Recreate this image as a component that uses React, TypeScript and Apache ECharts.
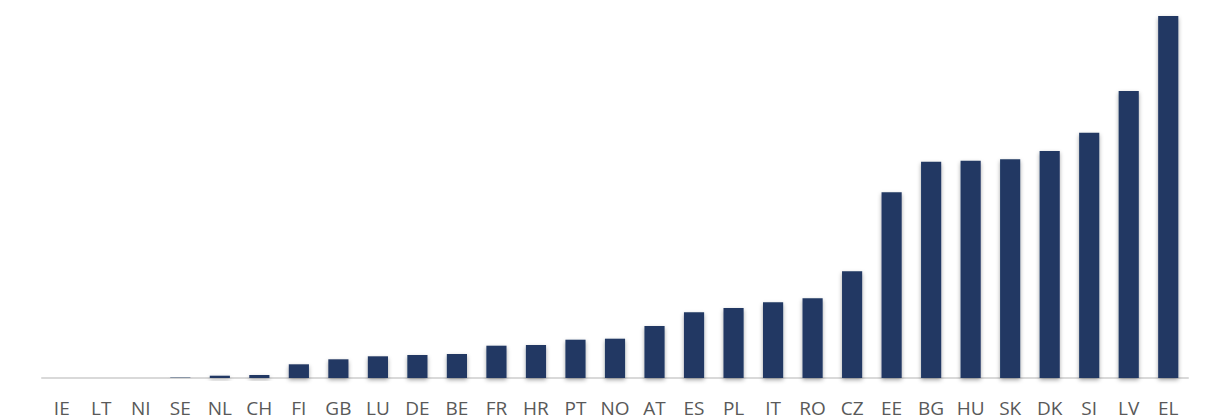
import React, { useEffect, useRef } from "react";
import * as echarts from "echarts";

const categories = ["IE", "LT", "NI", "SE", "NL", "CH", "FI", "GB", "LU", "DE", "BE", "FR", "HR", "PT", "NO", "AT", "ES", "PL", "IT", "RO", "CZ", "EE", "BG", "HU", "SK", "DK", "SI", "LV", "EL"];
const values = [0, 0, 0, 0.4, 2.3, 3, 13.7, 18.7, 21.7, 23, 24, 32.3, 33, 38.3, 39.3, 52, 65.7, 70, 75.7, 79.7, 106.7, 185.7, 216.3, 217.3, 218.7, 227, 245.3, 287, 362];

export default function App() {
  const ref = useRef<HTMLDivElement>(null);
  useEffect(() => {
    const chart = echarts.init(ref.current!, undefined, { renderer: "svg" });
    chart.setOption({
      animation: false,
      grid: { left: 42, right: 18, top: 16, bottom: 41, containLabel: false },
      xAxis: {
        type: "category",
        data: categories,
        axisLine: { lineStyle: { color: "#D9D9D9", width: 2 } },
        axisTick: { show: false },
        axisLabel: { color: "#595959", fontFamily: "Open Sans", fontSize: 19, margin: 20, interval: 0 },
      },
      yAxis: { type: "value", min: 0, max: 362, show: false, splitLine: { show: false } },
      series: [
        {
          type: "bar",
          data: values,
          barWidth: "51%",
          itemStyle: {
            color: "#203864",
            shadowColor: "rgba(0,0,0,0.35)",
            shadowBlur: 4,
            shadowOffsetY: 2,
          },
        },
      ],
    });
    return () => chart.dispose();
  }, []);
  return <div ref={ref} style={{ position: "fixed", left: 0, top: 0, width: 1206, height: 419, background: "#fff" }} />;
}
